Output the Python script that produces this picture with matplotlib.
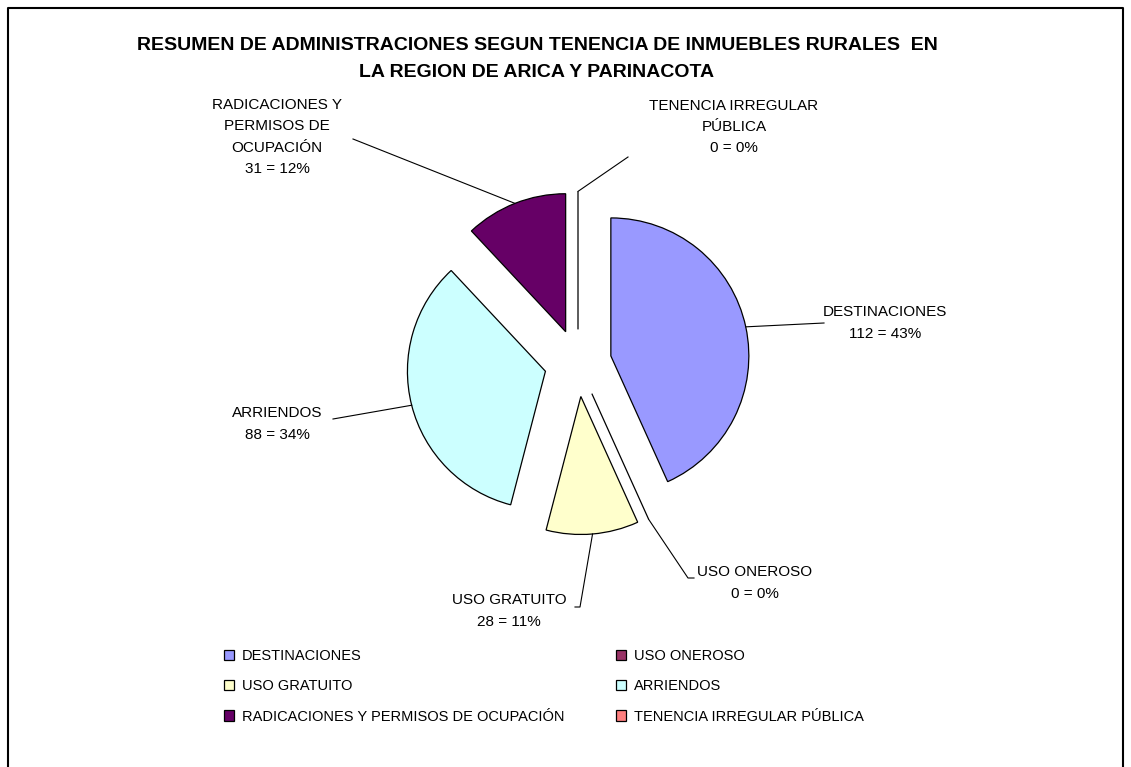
import numpy as np
import matplotlib.pyplot as plt

plt.rcParams['font.family'] = ['Liberation Sans', 'DejaVu Sans']

# data
categories = ['DESTINACIONES', 'USO ONEROSO', 'USO GRATUITO', 'ARRIENDOS',
              'RADICACIONES Y PERMISOS DE OCUPACIÓN', 'TENENCIA IRREGULAR PÚBLICA']
label_names = ['DESTINACIONES', 'USO ONEROSO', 'USO GRATUITO', 'ARRIENDOS',
               'RADICACIONES Y\nPERMISOS DE\nOCUPACIÓN', 'TENENCIA IRREGULAR\nPÚBLICA']
values = [112, 0, 28, 88, 31, 0]
colors = ['#9999FF', '#993366', '#FFFFCC', '#CCFFFF', '#660066', '#FF8080']

W, H = 1131, 767
fig = plt.figure(figsize=(W / 100, H / 100), dpi=100)
ax = fig.add_axes([0, 0, 1, 1])

# exploded pie, Excel style (first slice at 12 o'clock, clockwise)
cx, cy, r = 578, H - 363, 138
wedges, _ = ax.pie(values, colors=colors, startangle=90, counterclock=False,
                   explode=[33.6] * len(values), radius=r, center=(cx, cy),
                   wedgeprops=dict(edgecolor='black', linewidth=0.9))
ax.set_xlim(0, W)
ax.set_ylim(0, H)
ax.set_aspect('equal')
ax.axis('off')

# labels with leader lines (positions in pixel coords from the top)
label_pos = [(885, 323), (755, 583), (509, 611), (277, 424), (277, 137), (734, 127)]
leader_ends = [[(824, 323)], [(688, 578), (694, 578)], [(580, 607), (575, 607)],
               [(333, 419)], [(353, 139)], [(628, 157)]]
total = sum(values)
for w, name, v, (lx, ly), ends in zip(wedges, label_names, values, label_pos, leader_ends):
    t = np.deg2rad((w.theta1 + w.theta2) / 2)
    ax0 = w.center[0] + w.r * np.cos(t)
    ay0 = w.center[1] + w.r * np.sin(t)
    xs = [ax0] + [p[0] for p in ends]
    ys = [ay0] + [H - p[1] for p in ends]
    ax.plot(xs, ys, color='black', lw=0.8)
    ax.text(lx, H - ly, f'{name}\n{v} = {round(100 * v / total)}%',
            ha='center', va='center', multialignment='center', fontsize=11,
            linespacing=1.65)

# title
ax.text(537, H - 59, 'RESUMEN DE ADMINISTRACIONES SEGUN TENENCIA DE INMUEBLES RURALES  EN\n'
        'LA REGION DE ARICA Y PARINACOTA', ha='center', va='center',
        fontsize=14, fontweight='bold', linespacing=1.75)

# outer frame (bottom edge is cut off)
ax.plot([8, 8, 1123, 1123], [-5, H - 8, H - 8, -5], color='black', lw=1.5)

# legend, two columns filled row by row
leg_kw = dict(loc='upper left', frameon=False, fontsize=10.5, handlelength=0.7,
              handleheight=0.7, handletextpad=0.55, labelspacing=1.12,
              borderpad=0, borderaxespad=0, bbox_transform=ax.transData)
left = [0, 2, 4]
right = [1, 3, 5]
leg1 = ax.legend([wedges[i] for i in left], [categories[i] for i in left],
                 bbox_to_anchor=(224, H - 649), **leg_kw)
ax.add_artist(leg1)
ax.legend([wedges[i] for i in right], [categories[i] for i in right],
          bbox_to_anchor=(616, H - 649), **leg_kw)

fig.savefig('out.png', dpi=100)
